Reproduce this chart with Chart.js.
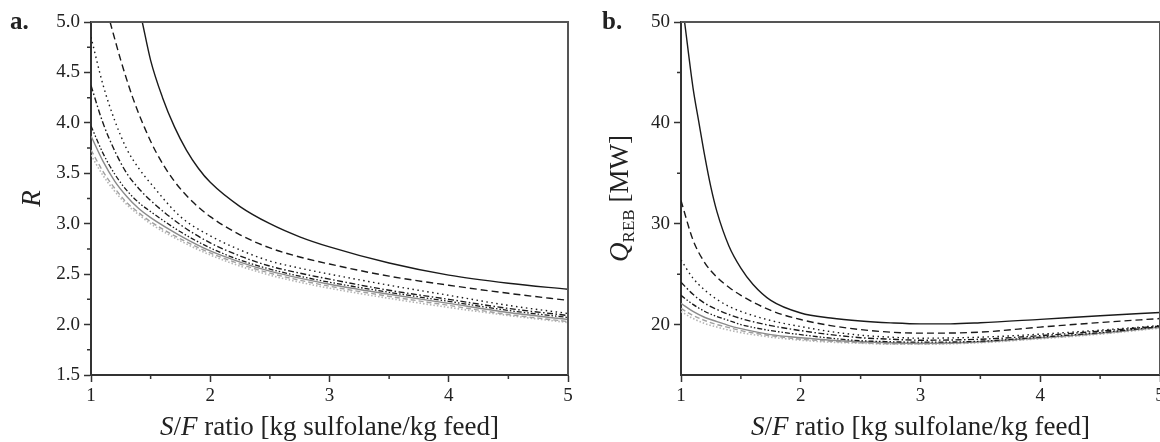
<!DOCTYPE html>
<html>
<head>
<meta charset="utf-8">
<script src="https://cdn.jsdelivr.net/npm/chart.js@4.4.0/dist/chart.umd.min.js"></script>
<style>
  html, body { margin: 0; padding: 0; background: #fff; overflow: hidden; }
  #wrapA { position: absolute; left: 0; top: 0; width: 580px; height: 442px; }
  #wrapB { position: absolute; left: 580px; top: 0; width: 600px; height: 442px; }
</style>
</head>
<body>
<div id="wrapA"><canvas id="chartA"></canvas></div>
<div id="wrapB"><canvas id="chartB"></canvas></div>
<script>
// S/F ratio sample points
var sfA = [1.0, 1.1, 1.2, 1.3, 1.4, 1.5, 1.75, 2.0, 2.25, 2.5, 2.75, 3.0, 3.5, 4.0, 4.5, 5.0];
var sfA1 = [1.43, 1.5, 1.6, 1.7, 1.8, 1.9, 2.0, 2.25, 2.5, 2.75, 3.0, 3.5, 4.0, 4.5, 5.0];
var sfA2 = [1.16, 1.25, 1.35, 1.45, 1.55, 1.7, 1.85, 2.0, 2.25, 2.5, 2.75, 3.0, 3.5, 4.0, 4.5, 5.0];
var sfB = [1.0, 1.1, 1.2, 1.3, 1.4, 1.5, 1.75, 2.0, 2.25, 2.5, 2.75, 3.0, 3.5, 4.0, 4.5, 5.0];
var sfB1 = [1.03, 1.1, 1.15, 1.2, 1.25, 1.3, 1.4, 1.5, 1.6, 1.75, 2.0, 2.25, 2.5, 2.75, 3.0, 3.25, 3.5, 4.0, 4.5, 5.0];

// panel a: reflux ratio R
var rA1 = [5.0, 4.62, 4.25, 3.96, 3.73, 3.55, 3.41, 3.17, 3.00, 2.87, 2.77, 2.61, 2.49, 2.41, 2.35];
var rA2 = [5.0, 4.62, 4.25, 3.95, 3.70, 3.42, 3.22, 3.07, 2.89, 2.76, 2.67, 2.60, 2.48, 2.39, 2.31, 2.24];
var rA3 = [4.85, 4.38, 4.02, 3.74, 3.55, 3.40, 3.07, 2.88, 2.74, 2.63, 2.56, 2.50, 2.39, 2.29, 2.19, 2.11];
var rA4 = [4.37, 4.00, 3.72, 3.50, 3.35, 3.23, 2.99, 2.81, 2.68, 2.58, 2.51, 2.45, 2.34, 2.25, 2.16, 2.09];
var rA5 = [3.97, 3.70, 3.49, 3.33, 3.21, 3.12, 2.92, 2.76, 2.64, 2.55, 2.48, 2.42, 2.32, 2.23, 2.14, 2.07];
var rA6 = [3.87, 3.62, 3.42, 3.27, 3.15, 3.06, 2.88, 2.73, 2.62, 2.53, 2.46, 2.40, 2.30, 2.21, 2.12, 2.05];
var rA7 = [3.73, 3.52, 3.35, 3.21, 3.11, 3.02, 2.85, 2.71, 2.60, 2.51, 2.44, 2.38, 2.28, 2.19, 2.10, 2.03];
var rA8 = [3.68, 3.48, 3.32, 3.19, 3.09, 3.00, 2.83, 2.69, 2.58, 2.49, 2.42, 2.36, 2.26, 2.17, 2.09, 2.02];

// panel b: reboiler duty Q_REB [MW]
var qB1 = [50, 43.5, 40, 36.6, 33.6, 31.2, 27.8, 25.6, 24.0, 22.4, 21.15, 20.65, 20.35, 20.17, 20.07, 20.07, 20.18, 20.52, 20.87, 21.2];
var qB2 = [32.3, 28.4, 26.1, 24.7, 23.7, 22.9, 21.4, 20.5, 19.9, 19.5, 19.25, 19.15, 19.25, 19.75, 20.2, 20.6];
var qB3 = [26.4, 24.6, 23.4, 22.5, 21.8, 21.3, 20.4, 19.8, 19.3, 18.95, 18.75, 18.65, 18.75, 19.05, 19.45, 19.9];
var qB4 = [24.2, 23.0, 22.1, 21.5, 21.0, 20.6, 19.9, 19.4, 19.0, 18.7, 18.55, 18.45, 18.55, 18.9, 19.35, 19.85];
var qB5 = [22.9, 22.0, 21.3, 20.8, 20.4, 20.0, 19.4, 19.0, 18.65, 18.4, 18.3, 18.25, 18.35, 18.75, 19.2, 19.8];
var qB6 = [22.1, 21.3, 20.7, 20.3, 19.9, 19.6, 19.0, 18.7, 18.45, 18.3, 18.2, 18.15, 18.3, 18.7, 19.15, 19.75];
var qB7 = [21.6, 20.9, 20.4, 20.0, 19.7, 19.4, 18.9, 18.55, 18.35, 18.2, 18.1, 18.1, 18.25, 18.65, 19.1, 19.7];
var qB8 = [21.3, 20.6, 20.1, 19.75, 19.45, 19.2, 18.75, 18.45, 18.25, 18.15, 18.05, 18.05, 18.2, 18.6, 19.05, 19.65];

// ticks
var xTicks = [1, 2, 3, 4, 5];
var xMinor = [1.5, 2.5, 3.5, 4.5];
var rTicks = [1.5, 2.0, 2.5, 3.0, 3.5, 4.0, 4.5, 5.0];
var rMinor = [1.75, 2.25, 2.75, 3.25, 3.75, 4.25, 4.75];
var qTicks = [20, 30, 40, 50];
var qMinor = [25, 35, 45];

var serif = '"Liberation Serif", "Times New Roman", serif';
var ink = '#222';

var lineStyles = [
  { color: '#1a1a1a', width: 1.4, dash: [] },
  { color: '#1a1a1a', width: 1.4, dash: [7, 4] },
  { color: '#1a1a1a', width: 1.4, dash: [1.5, 3.5] },
  { color: '#1a1a1a', width: 1.4, dash: [6, 2.5, 1.5, 2.5] },
  { color: '#1a1a1a', width: 1.3, dash: [5, 2, 1.5, 2, 1.5, 2] },
  { color: '#8a8a8a', width: 1.4, dash: [] },
  { color: '#a0a0a0', width: 1.4, dash: [5, 3] },
  { color: '#b4b4b4', width: 1.6, dash: [1.5, 2] }
];

function pts(xs, ys) {
  return xs.map(function (x, i) { return { x: x, y: ys[i] }; });
}

function makeDatasets(series) {
  return series.map(function (s, i) {
    var st = lineStyles[i];
    return {
      data: pts(s[0], s[1]),
      borderColor: st.color,
      borderWidth: st.width,
      borderDash: st.dash,
      pointRadius: 0,
      fill: false,
      cubicInterpolationMode: 'monotone'
    };
  });
}

function setTicks(list) {
  return function (scale) {
    scale.ticks = list.map(function (v) { return { value: v }; });
  };
}

function drawXTitle(ctx, cx, y) {
  var parts = [
    ['S', 'italic'], ['/', 'normal'], ['F', 'italic'], [' ratio [kg sulfolane/kg feed]', 'normal']
  ];
  var total = 0;
  parts.forEach(function (p) {
    ctx.font = p[1] + ' 27px ' + serif;
    p.push(ctx.measureText(p[0]).width);
    total += p[2];
  });
  var x = cx - total / 2;
  ctx.textAlign = 'left';
  ctx.textBaseline = 'alphabetic';
  parts.forEach(function (p) {
    ctx.font = p[1] + ' 27px ' + serif;
    ctx.fillText(p[0], x, y);
    x += p[2];
  });
}

function framePlugin(letter, letterX, yMinor, yTitle) {
  return {
    id: 'frame' + letter,
    afterDraw: function (chart) {
      var ctx = chart.ctx;
      var a = chart.chartArea;
      var xs = chart.scales.x, ys = chart.scales.y;
      ctx.save();
      // top and right border
      ctx.strokeStyle = '#555';
      ctx.lineWidth = 2;
      ctx.beginPath();
      ctx.moveTo(a.left, a.top);
      ctx.lineTo(a.right, a.top);
      ctx.lineTo(a.right, a.bottom);
      ctx.stroke();
      // minor ticks
      ctx.strokeStyle = '#333';
      ctx.lineWidth = 1.5;
      ctx.beginPath();
      xMinor.forEach(function (v) {
        var px = xs.getPixelForValue(v);
        ctx.moveTo(px, a.bottom);
        ctx.lineTo(px, a.bottom + 4);
      });
      yMinor.forEach(function (v) {
        var py = ys.getPixelForValue(v);
        ctx.moveTo(a.left, py);
        ctx.lineTo(a.left - 4, py);
      });
      ctx.stroke();
      ctx.fillStyle = ink;
      // panel letter
      ctx.font = 'bold 25px ' + serif;
      ctx.textAlign = 'left';
      ctx.textBaseline = 'alphabetic';
      ctx.fillText(letter, letterX, 29);
      drawXTitle(ctx, (a.left + a.right) / 2, 435);
      yTitle(ctx, (a.top + a.bottom) / 2);
      ctx.restore();
    }
  };
}

function baseOptions(yMin, yMax, yList, yWidth, rightPad, yLabel) {
  return {
    responsive: true,
    maintainAspectRatio: false,
    animation: false,
    layout: { padding: { left: 0, right: rightPad, top: 22, bottom: 0 } },
    plugins: { legend: { display: false }, tooltip: { enabled: false } },
    scales: {
      x: {
        type: 'linear', min: 1, max: 5,
        afterBuildTicks: setTicks(xTicks),
        afterFit: function (s) { s.height = 67; },
        ticks: { color: ink, font: { family: serif, size: 19 }, padding: 3, maxRotation: 0 },
        grid: { drawOnChartArea: false, drawTicks: true, tickLength: 7, tickColor: '#333', tickWidth: 1.5 },
        border: { color: '#333', width: 2 }
      },
      y: {
        type: 'linear', min: yMin, max: yMax,
        afterBuildTicks: setTicks(yList),
        afterFit: function (s) { s.width = yWidth; },
        ticks: { color: ink, font: { family: serif, size: 19 }, padding: 4, callback: yLabel },
        grid: { drawOnChartArea: false, drawTicks: true, tickLength: 7, tickColor: '#333', tickWidth: 1.5 },
        border: { color: '#333', width: 2 }
      }
    }
  };
}

new Chart(document.getElementById('chartA'), {
  type: 'line',
  data: {
    datasets: makeDatasets([
      [sfA1, rA1], [sfA2, rA2], [sfA, rA3], [sfA, rA4],
      [sfA, rA5], [sfA, rA6], [sfA, rA7], [sfA, rA8]
    ])
  },
  options: baseOptions(1.5, 5, rTicks, 91, 12, function (v) { return v.toFixed(1); }),
  plugins: [framePlugin('a.', 10, rMinor, function (ctx, cy) {
    ctx.save();
    ctx.translate(40, cy);
    ctx.rotate(-Math.PI / 2);
    ctx.font = 'italic 27px ' + serif;
    ctx.textAlign = 'center';
    ctx.fillText('R', 0, 0);
    ctx.restore();
  })]
});

new Chart(document.getElementById('chartB'), {
  type: 'line',
  data: {
    datasets: makeDatasets([
      [sfB1, qB1], [sfB, qB2], [sfB, qB3], [sfB, qB4],
      [sfB, qB5], [sfB, qB6], [sfB, qB7], [sfB, qB8]
    ])
  },
  options: baseOptions(15, 50, qTicks, 101, 20, function (v) { return String(v); }),
  plugins: [framePlugin('b.', 22, qMinor, function (ctx, cy) {
    ctx.save();
    ctx.translate(48, cy);
    ctx.rotate(-Math.PI / 2);
    ctx.font = 'italic 27px ' + serif;
    var wQ = ctx.measureText('Q').width;
    ctx.font = '17px ' + serif;
    var wSub = ctx.measureText('REB').width;
    ctx.font = '27px ' + serif;
    var wUnit = ctx.measureText(' [MW]').width;
    var x = -(wQ + wSub + wUnit) / 2;
    ctx.textAlign = 'left';
    ctx.font = 'italic 27px ' + serif;
    ctx.fillText('Q', x, 0);
    x += wQ;
    ctx.font = '17px ' + serif;
    ctx.fillText('REB', x, 6);
    x += wSub;
    ctx.font = '27px ' + serif;
    ctx.fillText(' [MW]', x, 0);
    ctx.restore();
  })]
});
</script>
</body>
</html>
